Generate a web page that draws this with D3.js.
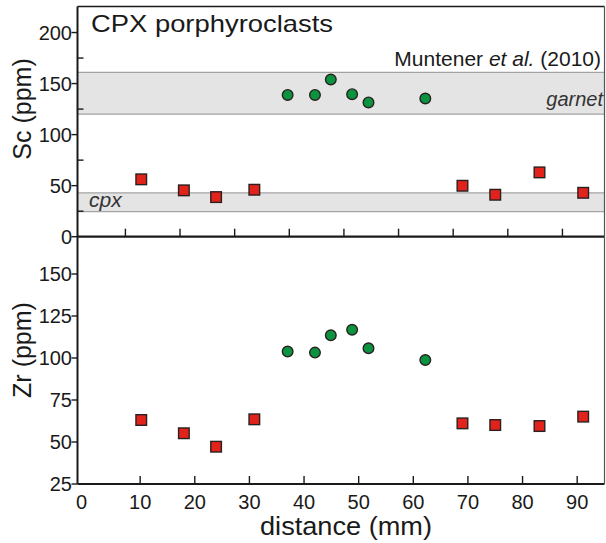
<!DOCTYPE html>
<html>
<head>
<meta charset="utf-8">
<script src="https://cdn.jsdelivr.net/npm/d3@7"></script>
<style>
  html, body { margin: 0; padding: 0; background: #fff; }
  svg { display: block; font-family: "Liberation Sans", Arial, Helvetica, sans-serif; }
</style>
</head>
<body>
<svg id="chart" width="606" height="543"></svg>
<script>
// Sample positions along the traverse (mm)
const distSquares = [10.2, 18.0, 23.9, 30.9, 69.0, 75.0, 83.1, 91.1];
const distCircles = [37.0, 42.0, 44.9, 48.8, 51.8, 62.2];

// Sc contents (ppm)
const scSquares = [56.2, 45.4, 38.8, 46.0, 49.9, 41.1, 63.0, 43.0];
const scCircles = [138.9, 138.9, 154.0, 139.6, 131.5, 135.4];

// Zr contents (ppm)
const zrSquares = [63.1, 55.2, 47.2, 63.5, 61.1, 60.1, 59.5, 65.1];
const zrCircles = [103.8, 103.2, 113.5, 116.8, 105.8, 98.8];

// Reference ranges (Muntener et al. 2010), Sc ppm
const garnetBand = [120, 161];
const cpxBand = [24.5, 43];

// Tick values
const xTickLabels = [0, 10, 20, 30, 40, 50, 60, 70, 80, 90];
const xTicksTop = [7.3, 17.3, 27.3, 37.3, 47.3, 57.3, 67.3, 77.3, 87.3];
const scTicksMajor = [0, 50, 100, 150, 200];
const scTicksMinor = [25, 75, 125, 175];
const zrTicks = [25, 50, 75, 100, 125, 150];

const svg = d3.select("#chart");
const left = 77.5, right = 604.5;
const topY = 6.5, midY = 236.7, botY = 484;

const x = d3.scaleLinear().domain([-1.47, 95.0]).range([left, right]);
const ySc = d3.scaleLinear().domain([0, 225.5]).range([midY, topY]);
const yZr = d3.scaleLinear().domain([25, 172.2]).range([botY, midY]);

const RED = "#e2231c", GREEN = "#0b9340", EDGE = "#2a2020";
const SQ = 10.6, R = 5.3;

// ---- bands ----
function band(range, y) {
  const g = svg.append("g");
  g.append("rect")
    .attr("x", left).attr("width", right - left)
    .attr("y", y(range[1])).attr("height", y(range[0]) - y(range[1]))
    .attr("fill", "#e4e4e4");
  [range[0], range[1]].forEach(v => {
    g.append("line")
      .attr("x1", left).attr("x2", right)
      .attr("y1", y(v)).attr("y2", y(v))
      .attr("stroke", "#a3a3a3").attr("stroke-width", 1.2);
  });
}
band(garnetBand, ySc);
band(cpxBand, ySc);

// ---- frame ----
const frame = svg.append("g").attr("stroke", "#1a1a1a").attr("fill", "none");
frame.append("line").attr("x1", left).attr("x2", right).attr("y1", topY).attr("y2", topY).attr("stroke-width", 1.6);
frame.append("line").attr("x1", left).attr("x2", left).attr("y1", topY).attr("y2", botY).attr("stroke-width", 2);
frame.append("line").attr("x1", left).attr("x2", right).attr("y1", midY).attr("y2", midY).attr("stroke-width", 2.2);
frame.append("line").attr("x1", left).attr("x2", right).attr("y1", botY).attr("y2", botY).attr("stroke-width", 2);
frame.append("line").attr("x1", right).attr("x2", right).attr("y1", topY).attr("y2", botY).attr("stroke-width", 1.2).attr("stroke", "#555");

// ---- ticks ----
const ticks = svg.append("g").attr("stroke", "#1a1a1a").attr("stroke-width", 1.4);
xTicksTop.forEach(v => ticks.append("line")
  .attr("x1", x(v)).attr("x2", x(v)).attr("y1", midY).attr("y2", midY - 8));
xTickLabels.filter(v => v > 0).forEach(v => ticks.append("line")
  .attr("x1", x(v)).attr("x2", x(v)).attr("y1", botY).attr("y2", botY - 8));
scTicksMajor.forEach(v => ticks.append("line")
  .attr("x1", left - 6).attr("x2", left).attr("y1", ySc(v)).attr("y2", ySc(v)));
scTicksMinor.forEach(v => ticks.append("line")
  .attr("x1", left).attr("x2", left + 6).attr("y1", ySc(v)).attr("y2", ySc(v)));
zrTicks.forEach(v => ticks.append("line")
  .attr("x1", left - 6).attr("x2", left).attr("y1", yZr(v)).attr("y2", yZr(v)));

// ---- tick labels ----
const lab = svg.append("g").attr("fill", "#1a1a1a").attr("font-size", 20);
scTicksMajor.forEach(v => lab.append("text")
  .attr("x", left - 5.5).attr("y", ySc(v)).attr("dy", "0.36em")
  .attr("text-anchor", "end").text(v));
zrTicks.forEach(v => lab.append("text")
  .attr("x", left - 5.5).attr("y", yZr(v)).attr("dy", "0.36em")
  .attr("text-anchor", "end").text(v));
xTickLabels.forEach(v => lab.append("text")
  .attr("x", x(v) - (v === 0 ? 4 : 0)).attr("y", 509)
  .attr("text-anchor", "middle").text(v));

// ---- axis titles ----
svg.append("text")
  .attr("transform", "translate(31,109) rotate(-90)")
  .attr("text-anchor", "middle").attr("font-size", 25).attr("fill", "#1a1a1a")
  .text("Sc (ppm)");
svg.append("text")
  .attr("transform", "translate(31,350) rotate(-90)")
  .attr("text-anchor", "middle").attr("font-size", 25).attr("fill", "#1a1a1a")
  .text("Zr (ppm)");
svg.append("text")
  .attr("x", 260).attr("y", 535)
  .attr("font-size", 25).attr("fill", "#1a1a1a")
  .attr("textLength", 172).attr("lengthAdjust", "spacingAndGlyphs")
  .text("distance (mm)");

// ---- panel annotations ----
svg.append("text")
  .attr("x", 91).attr("y", 31.7)
  .attr("font-size", 24).attr("fill", "#1a1a1a")
  .attr("textLength", 242).attr("lengthAdjust", "spacingAndGlyphs")
  .text("CPX porphyroclasts");

const ref = svg.append("text")
  .attr("x", 601).attr("y", 66)
  .attr("text-anchor", "end").attr("font-size", 21).attr("fill", "#1a1a1a");
ref.append("tspan").text("Muntener ");
ref.append("tspan").attr("font-style", "italic").text("et al.");
ref.append("tspan").text(" (2010)");

svg.append("text")
  .attr("x", 603).attr("y", 106)
  .attr("text-anchor", "end").attr("font-size", 20).attr("font-style", "italic")
  .attr("fill", "#333").text("garnet");
svg.append("text")
  .attr("x", 89).attr("y", 207)
  .attr("font-size", 21).attr("font-style", "italic")
  .attr("fill", "#333").text("cpx");

// ---- data marks ----
function squares(xs, ys, y) {
  svg.append("g").selectAll("rect")
    .data(xs.map((d, i) => [d, ys[i]]))
    .join("rect")
    .attr("x", d => x(d[0]) - SQ / 2).attr("y", d => y(d[1]) - SQ / 2)
    .attr("width", SQ).attr("height", SQ)
    .attr("fill", RED).attr("stroke", EDGE).attr("stroke-width", 1.4);
}
function circles(xs, ys, y) {
  svg.append("g").selectAll("circle")
    .data(xs.map((d, i) => [d, ys[i]]))
    .join("circle")
    .attr("cx", d => x(d[0])).attr("cy", d => y(d[1])).attr("r", R)
    .attr("fill", GREEN).attr("stroke", EDGE).attr("stroke-width", 1.4);
}
squares(distSquares, scSquares, ySc);
circles(distCircles, scCircles, ySc);
squares(distSquares, zrSquares, yZr);
circles(distCircles, zrCircles, yZr);
</script>
</body>
</html>
